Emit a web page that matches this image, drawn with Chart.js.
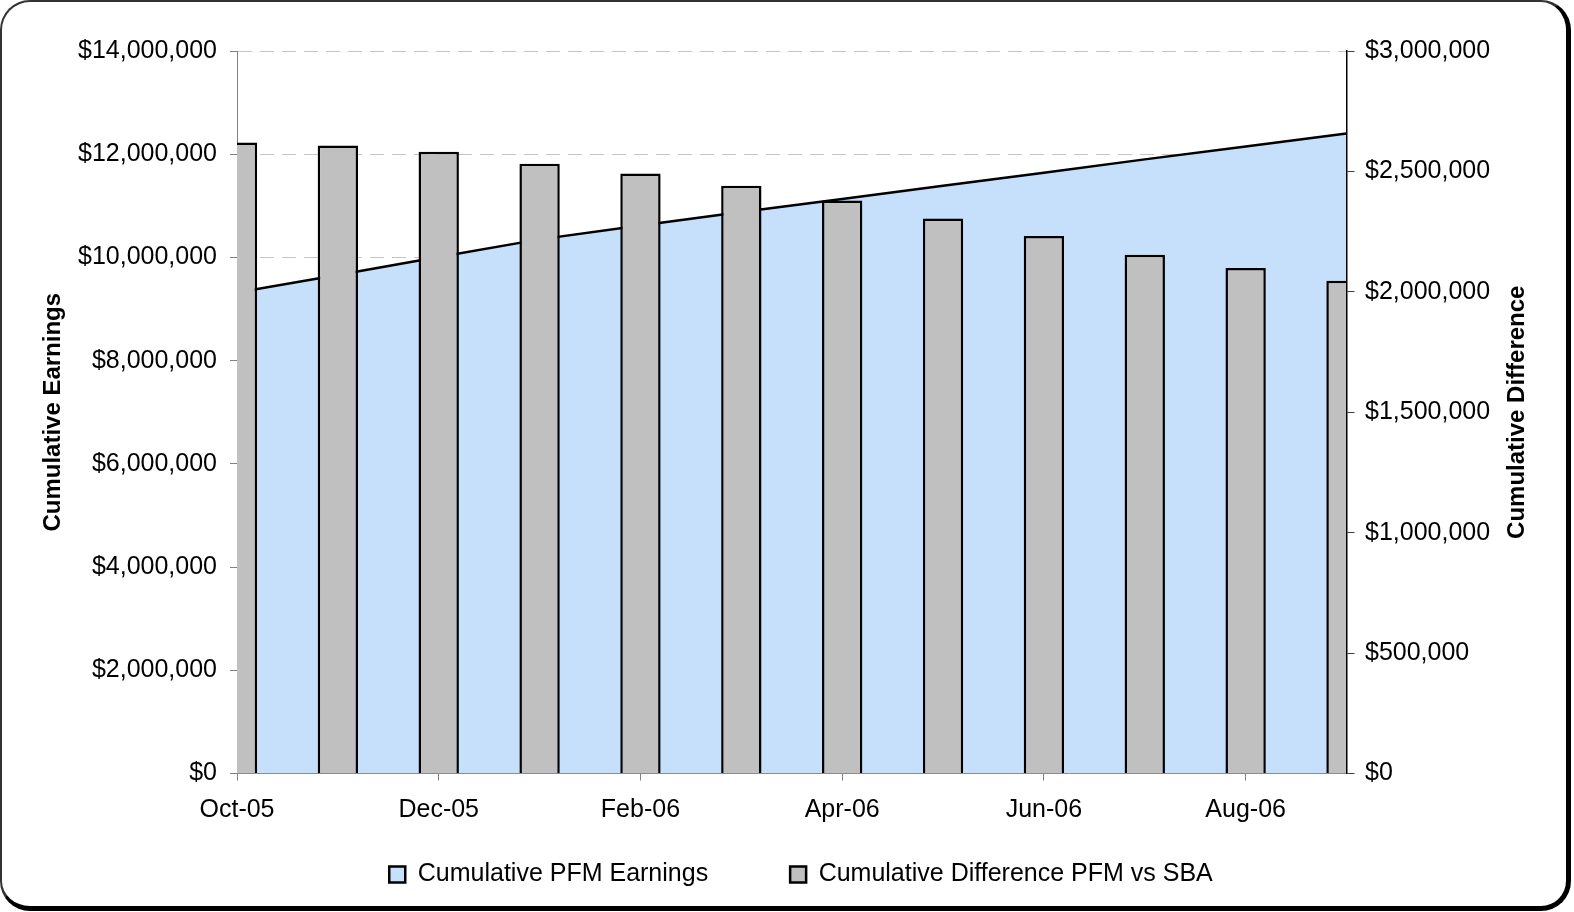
<!DOCTYPE html>
<html>
<head>
<meta charset="utf-8">
<title>Cumulative PFM Earnings</title>
<script src="https://cdn.jsdelivr.net/npm/chart.js@4.4.1/dist/chart.umd.min.js"></script>
<style>
  html, body { margin: 0; padding: 0; background: #fff; overflow: hidden; }
  #frame {
    position: absolute; left: 0; top: 0; width: 1571px; height: 911px;
    box-sizing: border-box; background: #fff;
    border-top: 2px solid #333; border-left: 2px solid #333;
    border-right: 5px solid #000; border-bottom: 5px solid #000;
    border-radius: 30px;
  }
  #chart { position: absolute; left: 0; top: 0; }
</style>
</head>
<body>
<div id="frame"></div>
<canvas id="chart" width="1574" height="912"></canvas>
<script>
// Meses do eixo X
const months = ['Oct-05', 'Nov-05', 'Dec-05', 'Jan-06', 'Feb-06', 'Mar-06',
                'Apr-06', 'May-06', 'Jun-06', 'Jul-06', 'Aug-06', 'Sep-06'];

// Área (eixo esquerdo)
const earnings = [9320000, 9660000, 10010000, 10350000, 10620000, 10880000,
                  11130000, 11390000, 11640000, 11900000, 12150000, 12400000];

// Barras (eixo direito)
const difference = [2620000, 2608000, 2582000, 2532000, 2491000, 2441000,
                    2379000, 2304000, 2232000, 2154000, 2099000, 2046000];

const seriesNames = ['Cumulative PFM Earnings', 'Cumulative Difference PFM vs SBA'];
const axisTitles = ['Cumulative Earnings', 'Cumulative Difference'];

const FONT = '"Liberation Sans", Arial, sans-serif';
Chart.defaults.font.family = FONT;
Chart.defaults.color = '#000';

const money = v => '$' + Number(v).toLocaleString('en-US');

// Título do eixo direito, lido de baixo para cima como no Excel
const rightTitle = {
  id: 'rightTitle',
  afterDraw(chart) {
    const s = chart.scales.y1;
    const ctx = chart.ctx;
    ctx.save();
    ctx.translate(s.right - 55, (s.top + s.bottom) / 2);
    ctx.rotate(-Math.PI / 2);
    ctx.font = 'bold 24px ' + FONT;
    ctx.fillStyle = '#000';
    ctx.textAlign = 'center';
    ctx.textBaseline = 'middle';
    ctx.fillText(axisTitles[1], 0, 0);
    ctx.restore();
  }
};

// Sobe a legenda para logo abaixo do eixo (o espaçamento largo entre itens empurra ela para baixo)
const liftLegend = {
  id: 'liftLegend',
  afterLayout(chart) {
    const lg = chart.legend;
    lg.top = chart.chartArea.bottom + 6.5;
    lg.bottom = lg.top + lg.height;
  }
};

new Chart(document.getElementById('chart'), {
  type: 'bar',
  data: {
    datasets: [
      {
        type: 'line',
        label: seriesNames[0],
        data: earnings.map((v, i) => ({ x: i, y: v })),
        yAxisID: 'y',
        backgroundColor: 'rgb(198,224,252)',
        borderColor: '#000',
        borderWidth: 2.5,
        pointRadius: 0,
        tension: 0,
        fill: 'origin',
        order: 1,
        clip: 0
      },
      {
        type: 'bar',
        label: seriesNames[1],
        data: difference.map((v, i) => ({ x: i, y: v })),
        yAxisID: 'y1',
        backgroundColor: '#c0c0c0',
        borderColor: '#000',
        borderWidth: 2.5,
        borderSkipped: 'start',
        barPercentage: 0.4,
        categoryPercentage: 1,
        order: 0,
        clip: 0
      }
    ]
  },
  options: {
    responsive: false,
    animation: false,
    devicePixelRatio: 1,
    layout: { padding: { left: 30, right: 2, top: 51, bottom: -31.5 } },
    plugins: {
      tooltip: { enabled: false },
      legend: {
        position: 'bottom',
        labels: {
          boxWidth: 16,
          boxHeight: 16,
          padding: 82,
          font: { size: 25 },
          color: '#000',
          sort: (a, b) => a.datasetIndex - b.datasetIndex
        }
      }
    },
    scales: {
      x: {
        type: 'linear',
        min: 0,
        max: months.length - 1,
        offset: false,
        afterFit: s => { s.height = 53; },
        ticks: {
          stepSize: 2,
          includeBounds: false,
          padding: 15,
          font: { size: 25 },
          color: '#000',
          maxRotation: 0,
          autoSkip: false,
          callback: v => months[v]
        },
        grid: { offset: false, drawOnChartArea: false, drawTicks: true, tickLength: 7, tickColor: '#808080' },
        border: { color: '#808080', width: 1 }
      },
      y: {
        position: 'left',
        min: 0,
        max: 14000000,
        afterFit: s => { s.width = 207; },
        ticks: { stepSize: 2000000, padding: 13, font: { size: 25 }, color: '#000', callback: money },
        grid: {
          color: '#c4c4c4',
          lineWidth: 1,
          tickLength: 7,
          tickColor: '#808080',
          tickBorderDash: []
        },
        border: { color: '#808080', width: 1, dash: [14, 8] },
        title: {
          display: true,
          text: axisTitles[0],
          font: { size: 24, weight: 'bold' },
          color: '#000',
          padding: { top: 9, bottom: 0 }
        }
      },
      y1: {
        position: 'right',
        min: 0,
        max: 3000000,
        afterFit: s => { s.width = 225.5; },
        ticks: { stepSize: 500000, padding: 10.5, font: { size: 25 }, color: '#000', callback: money },
        grid: { drawOnChartArea: false, drawTicks: true, tickLength: 8, tickColor: '#404040' },
        border: { color: '#000', width: 1.5, z: 1 }
      }
    }
  },
  plugins: [rightTitle, liftLegend]
});
</script>
</body>
</html>
